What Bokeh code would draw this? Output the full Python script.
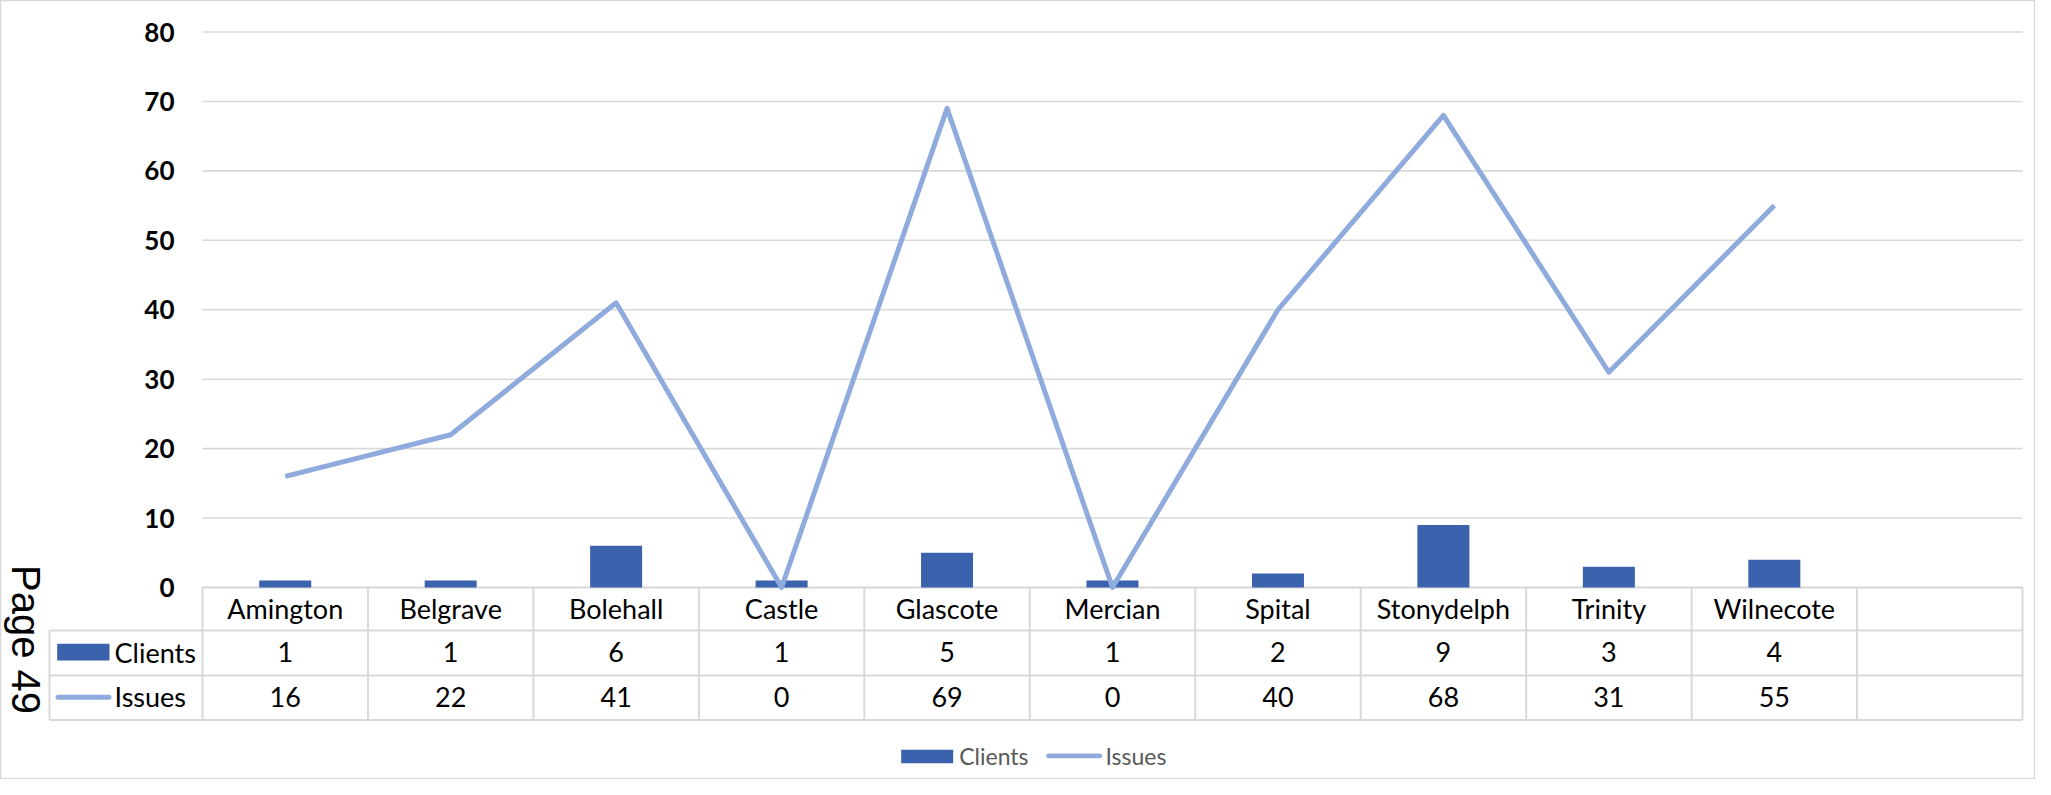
from bokeh.plotting import figure
from bokeh.models import Range1d, ColumnDataSource
from bokeh.core.properties import value
from bokeh.embed import file_html
from bokeh.resources import INLINE
import math

# ---- data ----
categories = ["Amington", "Belgrave", "Bolehall", "Castle", "Glascote",
              "Mercian", "Spital", "Stonydelph", "Trinity", "Wilnecote"]
clients = [1, 1, 6, 1, 5, 1, 2, 9, 3, 4]
issues = [16, 22, 41, 0, 69, 0, 40, 68, 31, 55]
y_ticks = [0, 10, 20, 30, 40, 50, 60, 70, 80]
series_names = ["Clients", "Issues"]
page_label = "Page 49"

# ---- layout (screen px of the picture) ----
W, H = 2035, 779
N_SLOTS = len(categories) + 1
X0 = 202.0                       # px of x = 0
X1 = 2022.0
CW = (X1 - X0) / N_SLOTS         # px per category
Y0 = 587.0                       # px of y = 0
YS = (Y0 - 31.5) / 80.0          # px per unit


def sx(px):
    return (px - X0) / CW


def sy(py):
    return (Y0 - py) / YS


p = figure(width=W, height=H, output_backend="svg", toolbar_location=None,
           x_axis_type=None, y_axis_type=None,
           x_range=Range1d(sx(0), sx(W)),
           y_range=Range1d(sy(H), sy(0)),
           min_border=0, min_border_left=0, min_border_right=0,
           min_border_top=0, min_border_bottom=0)
p.outline_line_color = "#D9D9D9"
p.outline_line_width = 1.5
p.background_fill_color = "white"
p.border_fill_color = "white"
p.grid.visible = False

GRID = "#D9D9D9"
BAR = "#3B63AD"
LINE = "#8FAADC"
FONT = value("Lato")

# ---- gridlines from ticks ----
p.segment(x0=[sx(X0)] * len(y_ticks), x1=[sx(X1)] * len(y_ticks),
          y0=y_ticks, y1=y_ticks, line_color=GRID, line_width=1.6)

# y tick labels
p.text(x=[sx(174)] * len(y_ticks), y=y_ticks, text=[str(t) for t in y_ticks],
       text_font=FONT, text_font_style="bold", text_font_size="26px",
       text_color="black", text_align="right", text_baseline="middle")

# ---- data table lines ----
row_lines = [587.0, 630.0, 675.0, 719.5]
hx0 = [sx(X0), sx(49), sx(49), sx(49)]
hx1 = [sx(X1)] * 4
p.segment(x0=hx0, x1=hx1, y0=[sy(r) for r in row_lines],
          y1=[sy(r) for r in row_lines], line_color=GRID, line_width=2)
vx = [k for k in range(N_SLOTS + 1)]
p.segment(x0=vx, x1=vx, y0=[sy(587)] * len(vx), y1=[sy(719.5)] * len(vx),
          line_color=GRID, line_width=2)
p.segment(x0=[sx(49)], x1=[sx(49)], y0=[sy(630)], y1=[sy(719.5)],
          line_color=GRID, line_width=2)

# ---- series ----
centers = [i + 0.5 for i in range(len(categories))]
src = ColumnDataSource(dict(x=centers, clients=clients, issues=issues,
                            cat=categories,
                            c_txt=[str(v) for v in clients],
                            i_txt=[str(v) for v in issues]))
p.vbar(x="x", top="clients", bottom=0, width=52.0 / CW, source=src,
       fill_color=BAR, line_color=None)
p.line(x="x", y="issues", source=src, line_color=LINE, line_width=5,
       line_join="round")

# ---- table text ----
p.text(x="x", y=sy(607.7), text="cat", source=src, text_font=FONT,
       text_font_size="27px", text_color="black", text_align="center",
       text_baseline="middle")
p.text(x="x", y=sy(651.8), text="c_txt", source=src, text_font=FONT,
       text_font_size="27px", text_color="black", text_align="center",
       text_baseline="middle")
p.text(x="x", y=sy(696.0), text="i_txt", source=src, text_font=FONT,
       text_font_size="27px", text_color="black", text_align="center",
       text_baseline="middle")

# table legend keys
p.quad(left=[sx(56.7)], right=[sx(109)], top=[sy(643.3)], bottom=[sy(660)],
       fill_color=BAR, line_color=None)
p.line(x=[sx(57.5), sx(108.5)], y=[sy(696.7), sy(696.7)], line_color=LINE,
       line_width=5, line_cap="round")
p.text(x=[sx(114), sx(114)], y=[sy(651.8), sy(696.0)], text=series_names,
       text_font=FONT, text_font_size="27px", text_color="black",
       text_align="left", text_baseline="middle")

# ---- bottom legend ----
p.quad(left=[sx(900.7)], right=[sx(952.7)], top=[sy(749.3)], bottom=[sy(762.7)],
       fill_color=BAR, line_color=None)
p.line(x=[sx(1048), sx(1099.5)], y=[sy(755.3), sy(755.3)], line_color=LINE,
       line_width=4.7, line_cap="round")
p.text(x=[sx(958.7), sx(1105)], y=[sy(755.0), sy(755.0)], text=series_names,
       text_font=FONT, text_font_size="23px", text_color="#595959",
       text_align="left", text_baseline="middle")

# ---- page label ----
p.text(x=[sx(25)], y=[sy(639)], text=[page_label], angle=-math.pi / 2,
       text_font=value("Liberation Sans"), text_font_size="40px",
       text_color="black", text_align="center", text_baseline="middle")

open("out.html", "w").write(file_html(p, INLINE))
